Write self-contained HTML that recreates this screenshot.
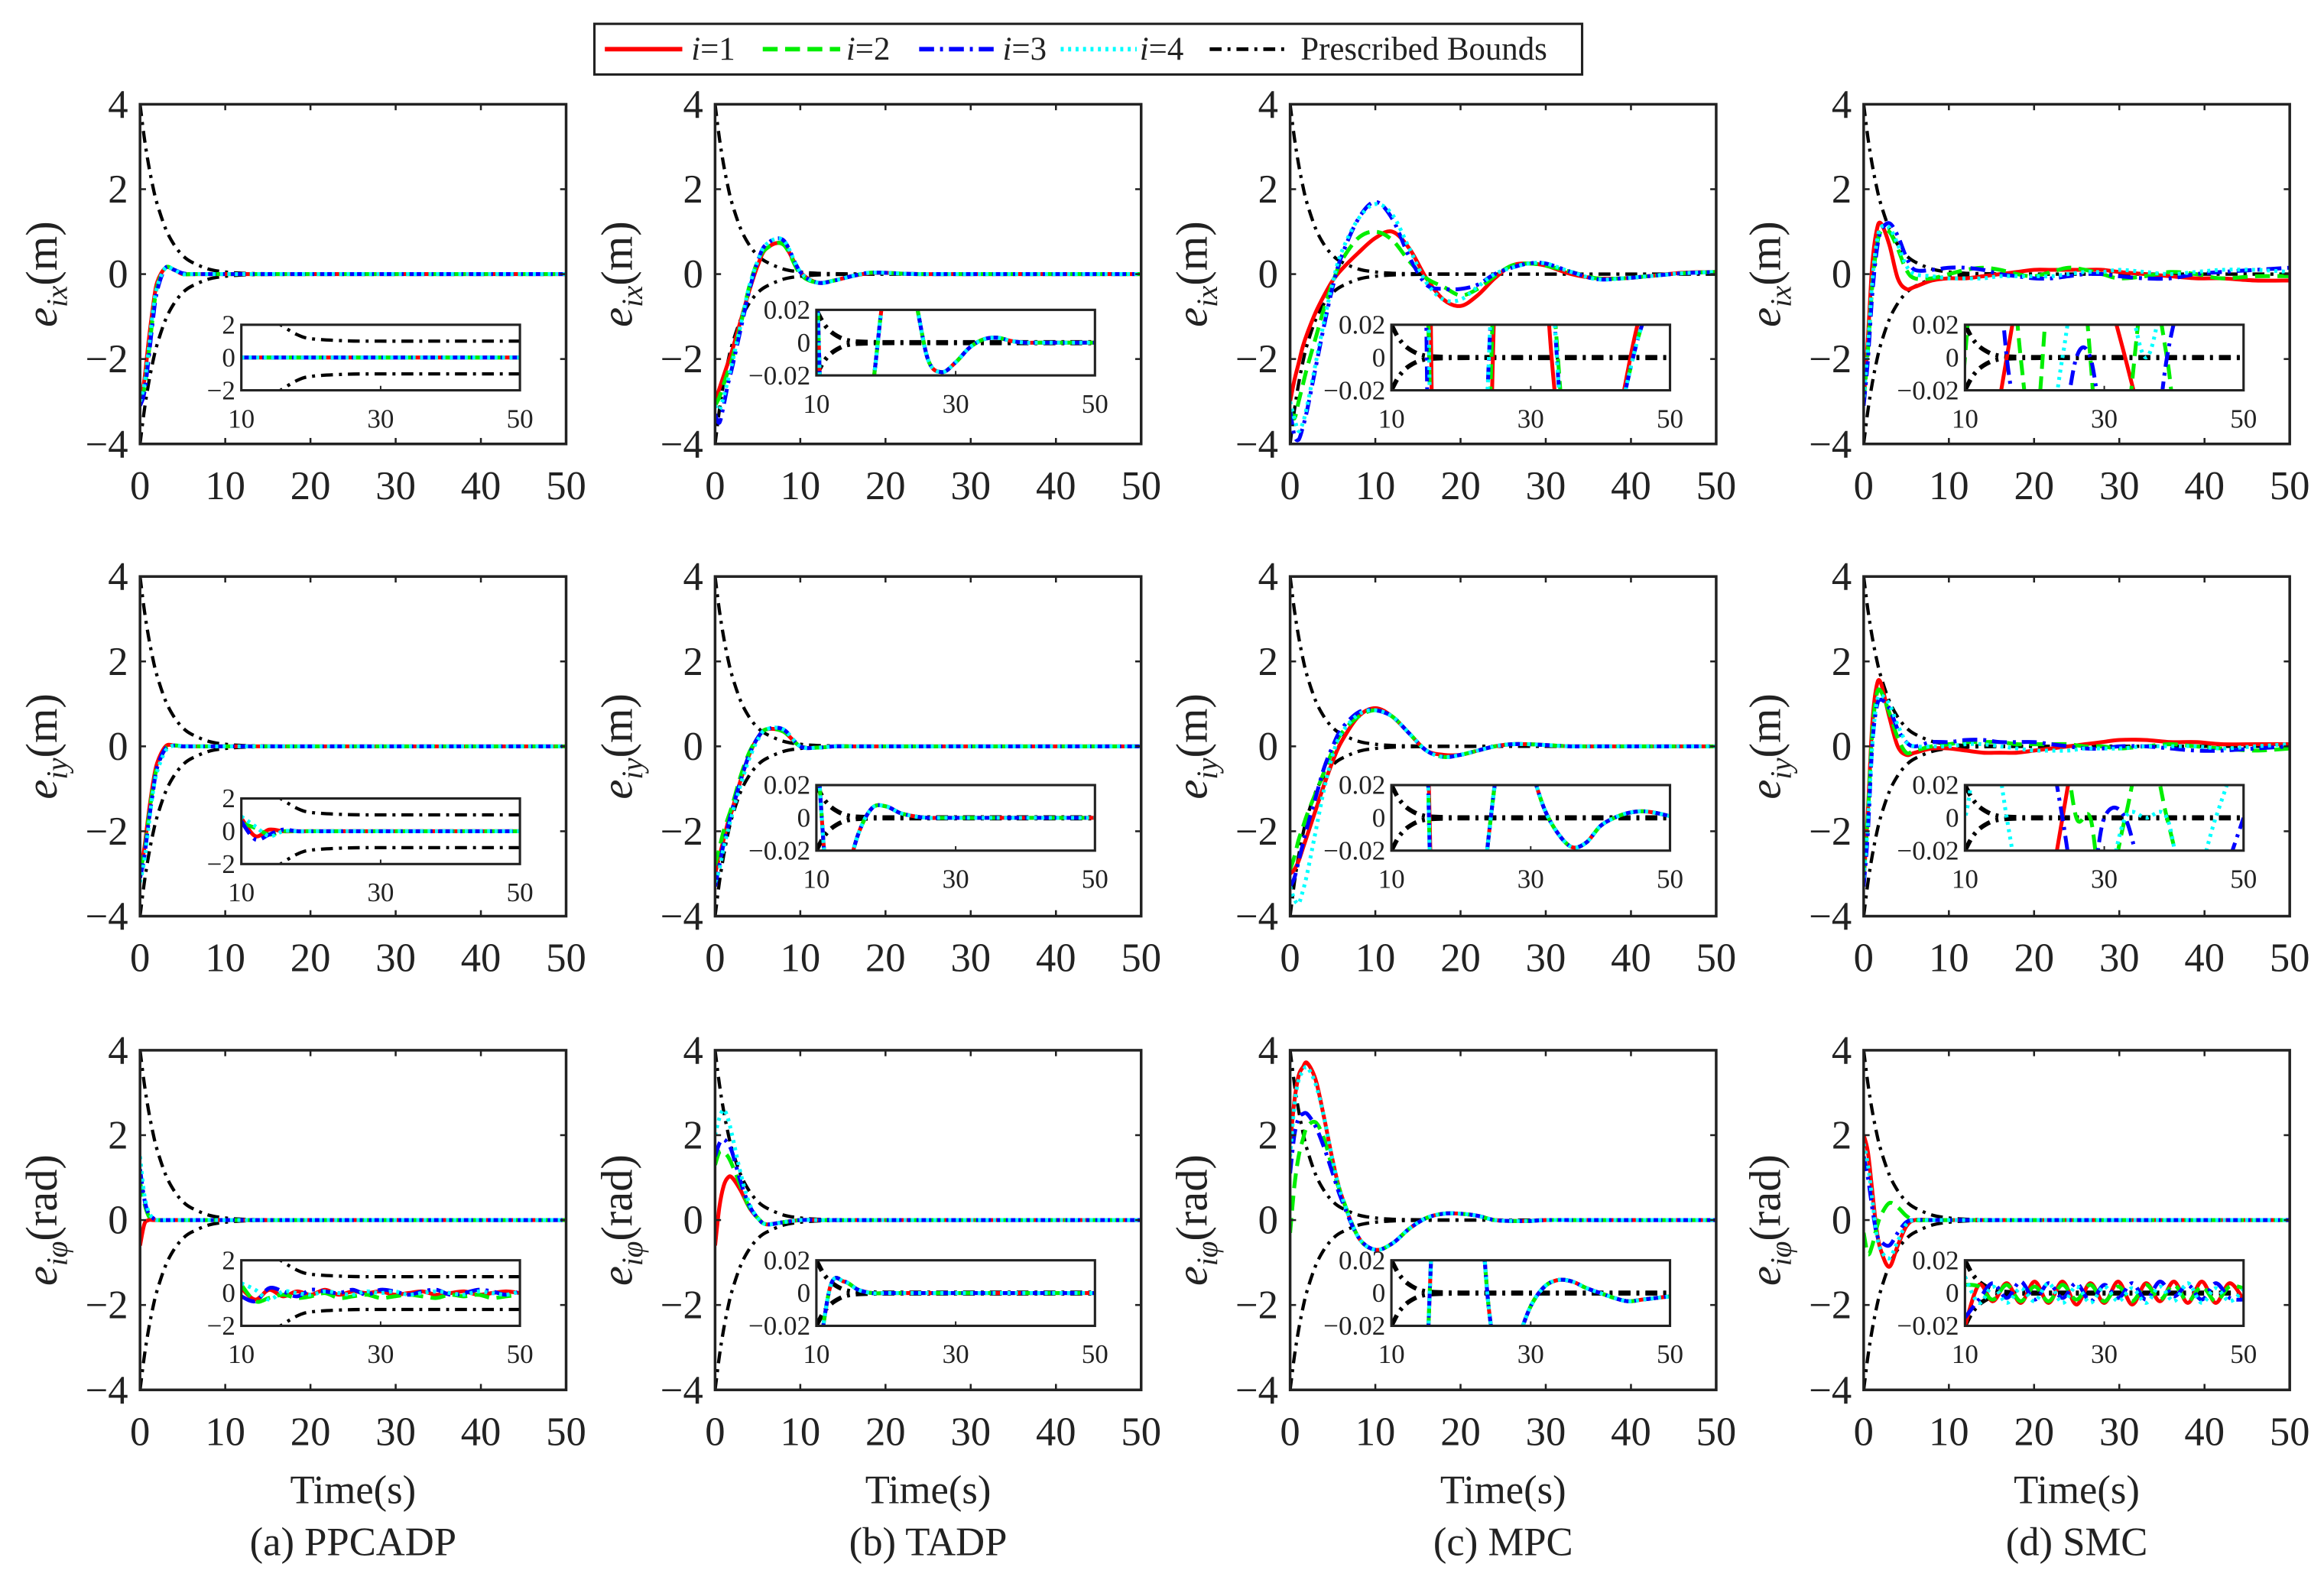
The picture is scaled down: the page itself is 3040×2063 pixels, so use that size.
<!DOCTYPE html>
<html><head><meta charset="utf-8"><title>Tracking errors comparison</title>
<style>
html,body{margin:0;padding:0;background:#fff;width:3040px;height:2063px;overflow:hidden;}
svg{display:block;}
text{font-family:"Liberation Serif",serif;fill:#222;}
</style></head>
<body>
<svg id="fig" xmlns="http://www.w3.org/2000/svg" width="3040" height="2063" viewBox="0 0 1560 1058.6" preserveAspectRatio="none" font-family="'Liberation Serif', serif">
  <g>
    <rect x="399" y="16" width="663" height="34" fill="#fff" stroke="#222" stroke-width="1.6"/>
    <line x1="406" y1="33" x2="458" y2="33" stroke="#f00" stroke-width="3"/>
    <text x="464" y="40" font-size="22"><tspan font-style="italic">i</tspan>=1</text>
    <line x1="512" y1="33" x2="564" y2="33" stroke="#0e0" stroke-width="3" stroke-dasharray="10,5"/>
    <text x="568" y="40" font-size="22"><tspan font-style="italic">i</tspan>=2</text>
    <line x1="617" y1="33" x2="668" y2="33" stroke="#00f" stroke-width="3" stroke-dasharray="10,4,2,4"/>
    <text x="673" y="40" font-size="22"><tspan font-style="italic">i</tspan>=3</text>
    <line x1="712" y1="33" x2="763" y2="33" stroke="#0ff" stroke-width="3" stroke-dasharray="2,3"/>
    <text x="765" y="40" font-size="22"><tspan font-style="italic">i</tspan>=4</text>
    <line x1="812" y1="33" x2="866" y2="33" stroke="#000" stroke-width="2.5" stroke-dasharray="8,4,2,4"/>
    <text x="873" y="40" font-size="22">Prescribed Bounds</text>
  </g>
</svg>
<script>
// ---------- data ----------
const Tm=[0,0.5,1,1.5,2,3,4,5,6,8,10,12,14,16,18,20,22,24,26,28,30,33,36,39,42,46,50];
const Ti=[10,12,14,16,18,20,22,24,26,28,30,32,34,36,38,40,42,44,46,48,50];
const Tb=[10,11,12,13,14,15,16,18,20,25,30,40,50];
const boundMain=[4,3.21,2.58,2.07,1.66,1.07,0.69,0.44,0.29,0.12,0.05,0.02,0.01,0.005,0.003,0.002,0.001,0.001,0.001,0.001,0.001,0.001,0.001,0.001,0.001,0.001,0.001];
const boundInsetA=[5,4.5,3.8,3.2,2.6,2.2,1.9,1.4,1.15,1.02,1.0,1.0,1.0];
const boundInsetS=[0.02,0.012,0.007,0.004,0.002,0.001,0.0006,0.0003,0.0002,0.0002,0.0002,0.0002,0.0002];
const xTicks=[0,10,20,30,40,50];
const yTicks=[-4,-2,0,2,4];
const insetXTicks=[10,30,50];
const captions=["(a) PPCADP","(b) TADP","(c) MPC","(d) SMC"];

// (a) PPCADP
const aX1=[-3,-2.5,-1.6,-0.8,-0.2,0.15,0.1,0,0,0,0,0,0,0,0,0,0,0,0,0,0,0,0,0,0,0,0];
const aX2=[-3,-2.7,-1.9,-1.0,-0.3,0.15,0.1,0,0,0,0,0,0,0,0,0,0,0,0,0,0,0,0,0,0,0,0];
const aX3=[-3.1,-2.8,-2.0,-1.1,-0.4,0.15,0.1,0.02,0,0,0,0,0,0,0,0,0,0,0,0,0,0,0,0,0,0,0];
const aX4=[-3,-2.6,-1.8,-0.9,-0.3,0.15,0.1,0,0,0,0,0,0,0,0,0,0,0,0,0,0,0,0,0,0,0,0];
const aY1=[-3,-2.4,-1.6,-0.9,-0.4,0,0.02,0,0,0,0,0,0,0,0,0,0,0,0,0,0,0,0,0,0,0,0];
const aY2=[-2.9,-2.5,-1.7,-1.0,-0.5,-0.05,0.02,0,0,0,0,0,0,0,0,0,0,0,0,0,0,0,0,0,0,0,0];
const aY3=[-3.1,-2.6,-1.8,-1.1,-0.5,-0.05,0.02,0,0,0,0,0,0,0,0,0,0,0,0,0,0,0,0,0,0,0,0];
const aY4=[-3.2,-2.7,-1.9,-1.1,-0.6,-0.1,0.02,0,0,0,0,0,0,0,0,0,0,0,0,0,0,0,0,0,0,0,0];
const aP1=[-0.6,-0.1,0,0,0,0,0,0,0,0,0,0,0,0,0,0,0,0,0,0,0,0,0,0,0,0,0];
const aP2=[0.9,0.4,0.1,0,0,0,0,0,0,0,0,0,0,0,0,0,0,0,0,0,0,0,0,0,0,0,0];
const aP3=[1.2,0.5,0.15,0.05,0,0,0,0,0,0,0,0,0,0,0,0,0,0,0,0,0,0,0,0,0,0,0];
const aP4=[1.5,0.6,0.2,0.05,0,0,0,0,0,0,0,0,0,0,0,0,0,0,0,0,0,0,0,0,0,0,0];
const aXi=[0,0,0,0,0,0,0,0,0,0,0,0,0,0,0,0,0,0,0,0,0];
const aYi1=[0.8,-0.3,0.1,0,0,0,0,0,0,0,0,0,0,0,0,0,0,0,0,0,0];
const aYi2=[0.5,0.2,-0.2,0,0,0,0,0,0,0,0,0,0,0,0,0,0,0,0,0,0];
const aYi3=[0.6,-0.5,-0.2,0.1,0,0,0,0,0,0,0,0,0,0,0,0,0,0,0,0,0];
const aYi4=[0.9,0.3,-0.3,0,0,0,0,0,0,0,0,0,0,0,0,0,0,0,0,0,0];
const aPi1=[0.3,-0.4,0.2,-0.2,0.1,-0.1,0.2,-0.1,0.1,0,0.1,-0.1,0,0.1,-0.1,0,0.1,-0.1,0,0.1,0];
const aPi2=[0.5,-0.5,-0.3,-0.1,-0.3,-0.2,0,-0.3,-0.2,-0.1,-0.3,-0.2,-0.1,-0.2,-0.3,-0.1,-0.2,-0.1,-0.3,-0.2,-0.1];
const aPi3=[-0.2,-0.5,0.3,0.1,-0.2,0.2,0.1,0,0.2,-0.1,0.2,0.1,-0.1,0.1,0.2,-0.1,0,0.2,0.1,-0.1,0.1];
const aPi4=[0.6,0.2,-0.4,0.1,0,-0.1,0.1,0,-0.1,0.1,0,0.1,-0.1,0,0.1,0,-0.1,0.1,0,-0.1,0.1];

// (b) TADP
const bX1=[-3,-2.7,-2.4,-2.1,-1.8,-1.1,-0.4,0.2,0.6,0.7,0.05,-0.2,-0.15,-0.05,0.02,0.03,0.01,0,0,0,0,0,0,0,0,0,0];
const bX2=[-3.1,-2.9,-2.6,-2.3,-2.0,-1.2,-0.3,0.3,0.6,0.7,0,-0.2,-0.15,-0.05,0.03,0.03,0.01,0,0,0,0,0,0,0,0,0,0];
const bX3=[-3.3,-3.5,-3.1,-2.6,-2.2,-1.3,-0.4,0.3,0.7,0.8,0.05,-0.2,-0.15,-0.05,0.03,0.03,0.01,0,0,0,0,0,0,0,0,0,0];
const bX4=[-3.1,-3.2,-2.9,-2.5,-2.1,-1.2,-0.3,0.3,0.7,0.8,0.05,-0.2,-0.15,-0.05,0.03,0.03,0.01,0,0,0,0,0,0,0,0,0,0];
const bY1=[-3,-2.6,-2.2,-1.8,-1.5,-0.8,-0.2,0.2,0.4,0.35,0,-0.03,0,0,0,0,0,0,0,0,0,0,0,0,0,0,0];
const bY2=[-2.8,-2.4,-2.0,-1.7,-1.4,-0.7,-0.15,0.2,0.4,0.35,0,-0.03,0,0,0,0,0,0,0,0,0,0,0,0,0,0,0];
const bY3=[-3.3,-2.8,-2.3,-1.9,-1.5,-0.8,-0.2,0.2,0.4,0.4,0,-0.03,0,0,0,0,0,0,0,0,0,0,0,0,0,0,0];
const bY4=[-3.2,-2.9,-2.4,-2.0,-1.6,-0.9,-0.3,0.15,0.4,0.4,0,-0.03,0,0,0,0,0,0,0,0,0,0,0,0,0,0,0];
const bP1=[-0.6,0.3,0.8,1.0,1.0,0.7,0.3,0.05,-0.1,-0.05,0,0,0,0,0,0,0,0,0,0,0,0,0,0,0,0,0];
const bP2=[1.3,1.6,1.6,1.5,1.3,0.8,0.3,0.05,-0.1,-0.05,0,0,0,0,0,0,0,0,0,0,0,0,0,0,0,0,0];
const bP3=[1.5,1.8,1.9,1.8,1.6,0.9,0.35,0.05,-0.1,-0.05,0,0,0,0,0,0,0,0,0,0,0,0,0,0,0,0,0];
const bP4=[2.0,2.4,2.6,2.4,2.0,1.1,0.4,0.05,-0.1,-0.05,0,0,0,0,0,0,0,0,0,0,0,0,0,0,0,0,0];
const bXi=[0.05,-0.2,-0.15,-0.08,-0.03,0.04,0.05,0.03,-0.01,-0.018,-0.012,-0.003,0.002,0.003,0.001,0,0,0,0,0,0];
const bYi=[0.05,-0.06,-0.04,-0.01,0.006,0.007,0.003,0.001,0,0,0,0,0,0,0,0,0,0,0,0,0];
const bPi=[-0.05,0.004,0.007,0.002,0,0,0,0,0,0,0,0,0,0,0,0,0,0,0,0,0];

// (c) MPC
const cX1=[-3,-2.5,-2.1,-1.7,-1.4,-0.9,-0.5,-0.15,0.1,0.5,0.85,1.0,0.6,-0.1,-0.6,-0.75,-0.5,-0.1,0.2,0.25,0.2,0,-0.1,-0.1,-0.05,0.03,0.05];
const cX2=[-3.2,-3.4,-3.0,-2.6,-2.2,-1.5,-0.8,-0.2,0.3,0.85,1.0,0.8,0.3,-0.1,-0.3,-0.5,-0.35,-0.05,0.2,0.25,0.2,0.05,-0.1,-0.1,-0.05,0.02,0.05];
const cX3=[-3.2,-3.8,-3.9,-3.6,-3.2,-2.2,-1.2,-0.3,0.4,1.3,1.7,1.3,0.4,-0.25,-0.35,-0.35,-0.25,0,0.15,0.25,0.25,0.05,-0.12,-0.1,-0.05,0.02,0.05];
const cX4=[-3.0,-3.4,-3.7,-3.5,-3.1,-2.1,-1.1,-0.2,0.5,1.3,1.65,1.4,0.6,-0.2,-0.6,-0.6,-0.3,0,0.15,0.25,0.25,0.05,-0.12,-0.1,-0.05,0.02,0.05];
const cY1=[-3,-2.9,-2.7,-2.4,-2.1,-1.5,-0.9,-0.35,0.1,0.7,0.9,0.7,0.3,-0.1,-0.2,-0.2,-0.1,0,0.05,0.05,0.03,0,0,0,0,0,0];
const cY2=[-2.9,-2.6,-2.2,-1.9,-1.6,-1.1,-0.6,-0.1,0.3,0.7,0.85,0.7,0.3,-0.1,-0.25,-0.2,-0.1,0,0.05,0.05,0.03,0,0,0,0,0,0];
const cY3=[-3.3,-3.1,-2.7,-2.3,-1.9,-1.2,-0.5,0,0.4,0.8,0.85,0.7,0.3,-0.1,-0.25,-0.2,-0.1,0,0.05,0.05,0.03,0,0,0,0,0,0];
const cY4=[-3.3,-3.6,-3.7,-3.4,-3.0,-2.0,-1.0,-0.2,0.3,0.75,0.85,0.7,0.3,-0.1,-0.25,-0.2,-0.1,0,0.05,0.05,0.03,0,0,0,0,0,0];
const cP1=[1.8,2.8,3.4,3.6,3.7,3.3,2.4,1.4,0.6,-0.4,-0.7,-0.55,-0.2,0.05,0.15,0.15,0.1,0,-0.02,-0.02,0,0,0,0,0,0,0];
const cP2=[-0.3,0.8,1.5,1.9,2.2,2.3,1.9,1.2,0.6,-0.4,-0.7,-0.55,-0.2,0.05,0.15,0.15,0.1,0,-0.02,-0.02,0,0,0,0,0,0,0];
const cP3=[1.1,2.0,2.4,2.5,2.5,2.2,1.7,1.1,0.5,-0.4,-0.7,-0.55,-0.2,0.05,0.15,0.15,0.1,0,-0.02,-0.02,0,0,0,0,0,0,0];
const cP4=[1.5,2.7,3.3,3.5,3.6,3.2,2.4,1.4,0.6,-0.4,-0.7,-0.55,-0.2,0.05,0.15,0.15,0.1,0,-0.02,-0.02,0,0,0,0,0,0,0];
const cYi=[0.9,0.7,0.3,-0.1,-0.2,-0.2,-0.1,-0.01,0.05,0.05,0.03,0.005,-0.01,-0.018,-0.015,-0.005,0,0.003,0.004,0.003,0.001];
const cPi=[-0.7,-0.55,-0.2,0.05,0.15,0.15,0.1,-0.01,-0.05,-0.03,-0.008,0.004,0.008,0.007,0.003,0,-0.003,-0.005,-0.004,-0.003,-0.002];

// (d) SMC
const dX1=[-3,-1.5,0.2,1.0,1.2,0.7,-0.1,-0.35,-0.3,-0.15,-0.1,-0.1,-0.05,0,0.05,0.1,0.1,0.1,0.1,0.1,0.05,0,-0.05,-0.1,-0.1,-0.15,-0.15];
const dX2=[-3,-1.8,-0.3,0.6,1.0,1.0,0.6,0.1,-0.1,-0.1,0,0.1,0.15,0.1,0,-0.05,0.05,0.15,0.1,0,-0.1,-0.05,0.05,0,-0.1,-0.05,-0.05];
const dX3=[-3.1,-2.0,-0.5,0.5,1.0,1.2,0.9,0.4,0.1,0.1,0.15,0.15,0.1,0,-0.05,-0.1,-0.1,-0.05,0,0,-0.05,-0.1,-0.1,0,0.05,0.1,0.15];
const dX4=[-2.9,-1.7,-0.2,0.7,1.1,1.1,0.7,0.2,0,-0.05,-0.1,-0.1,-0.1,-0.05,-0.05,-0.05,-0.05,0,0.05,0.05,0.1,0.05,0,0.05,0.1,0.1,0.05];
const dY1=[-3.2,-1.5,0.5,1.4,1.5,0.7,0,-0.2,-0.15,-0.05,-0.05,-0.1,-0.15,-0.15,-0.15,-0.1,-0.05,0,0.05,0.1,0.15,0.15,0.1,0.1,0.05,0.05,0.05];
const dY2=[-3.0,-1.6,0.3,1.2,1.3,0.8,0.2,-0.15,-0.1,0,0.05,0.1,0.1,0.1,0.05,0.05,0.05,0.05,0,0,-0.05,0,0.05,0,-0.05,-0.1,-0.05];
const dY3=[-3.3,-2.0,0,0.9,1.1,0.9,0.4,0.1,0,0.1,0.1,0.15,0.15,0.1,0.1,0.1,0.05,0,-0.05,-0.05,0,0,-0.05,-0.1,-0.1,-0.05,0];
const dY4=[-3.1,-1.8,0,1.0,1.2,1.0,0.5,0.1,0,0,0,0.05,0.05,0,-0.05,-0.1,-0.1,-0.1,-0.05,-0.05,-0.05,0,0,0,-0.05,0,0.05];
const dP1=[2.0,1.6,0.7,-0.2,-0.7,-1.1,-0.6,-0.15,0,0,0,0,0,0,0,0,0,0,0,0,0,0,0,0,0,0,0];
const dP2=[-0.3,-0.8,-0.6,-0.2,0.1,0.4,0.3,0.1,0,0,0,0,0,0,0,0,0,0,0,0,0,0,0,0,0,0,0];
const dP3=[1.5,1.0,0.3,-0.3,-0.5,-0.6,-0.3,-0.05,0,0,0,0,0,0,0,0,0,0,0,0,0,0,0,0,0,0,0];
const dP4=[1.8,1.3,0.5,-0.3,-0.7,-0.9,-0.5,-0.1,0,0,0,0,0,0,0,0,0,0,0,0,0,0,0,0,0,0,0];
const dPi1=[-0.02,0.005,-0.005,0.006,-0.006,0.007,-0.006,0.007,-0.007,0.006,-0.006,0.007,-0.007,0.006,-0.005,0.007,-0.006,0.007,-0.006,0.006,-0.004];
const dPi2=[0.005,0.004,-0.004,0.005,-0.005,0.004,-0.005,0.005,-0.004,0.005,-0.005,0.004,-0.005,0.005,-0.004,0.005,-0.005,0.004,-0.005,0.004,0.003];
const dPi3=[-0.015,-0.004,0.006,-0.003,0.007,-0.004,0.006,-0.003,0.006,-0.005,0.005,-0.003,0.006,-0.004,0.007,-0.002,0.005,-0.004,0.006,-0.003,-0.004];
const dPi4=[0.01,-0.006,0.004,-0.006,0.003,-0.005,0.006,-0.006,0.004,-0.006,0.004,-0.005,0.003,-0.006,0.004,-0.005,0.006,-0.006,0.003,-0.005,0.002];

// ---------- layout ----------
const NS="http://www.w3.org/2000/svg";
const svg=document.getElementById('fig');
const colX=[94,480,866,1251], rowY=[70,387,705], AW=286, AH=228;
const insetTopArr=[[218,208,218,218],[536,527,527,527],[846,846,846,846]];
const insetLeftOff=68, IW=187, IH=44;
const styles=[
 {c:"#f00",d:"",w:2.6},
 {c:"#0e0",d:"10,5",w:2.6},
 {c:"#00f",d:"10,4,2,4",w:2.6},
 {c:"#0ff",d:"2,3",w:2.6}];
const ylabels=[["ix","(m)"],["iy","(m)"],["iφ","(rad)"]];

const panels=[
 {col:0,row:0,main:[aX1,aX2,aX3,aX4],it:Ti,ins:[aXi,aXi,aXi,aXi],big:true},
 {col:0,row:1,main:[aY1,aY2,aY3,aY4],it:Ti,ins:[aYi1,aYi2,aYi3,aYi4],big:true},
 {col:0,row:2,main:[aP1,aP2,aP3,aP4],it:Ti,ins:[aPi1,aPi2,aPi3,aPi4],big:true},
 {col:1,row:0,main:[bX1,bX2,bX3,bX4],it:Ti,ins:[bXi,bXi,bXi,bXi]},
 {col:1,row:1,main:[bY1,bY2,bY3,bY4],it:Ti,ins:[bYi,bYi,bYi,bYi]},
 {col:1,row:2,main:[bP1,bP2,bP3,bP4],it:Ti,ins:[bPi,bPi,bPi,bPi]},
 {col:2,row:0,main:[cX1,cX2,cX3,cX4],it:Tm,ins:[cX1,cX2,cX3,cX4]},
 {col:2,row:1,main:[cY1,cY2,cY3,cY4],it:Ti,ins:[cYi,cYi,cYi,cYi]},
 {col:2,row:2,main:[cP1,cP2,cP3,cP4],it:Ti,ins:[cPi,cPi,cPi,cPi]},
 {col:3,row:0,main:[dX1,dX2,dX3,dX4],it:Tm,ins:[dX1,dX2,dX3,dX4]},
 {col:3,row:1,main:[dY1,dY2,dY3,dY4],it:Tm,ins:[dY1,dY2,dY3,dY4]},
 {col:3,row:2,main:[dP1,dP2,dP3,dP4],it:Ti,ins:[dPi1,dPi2,dPi3,dPi4]}
];

function el(tag,attrs,parent){const e=document.createElementNS(NS,tag);for(const k in attrs)e.setAttribute(k,attrs[k]);(parent||svg).appendChild(e);return e;}
function pathD(pts){
  let d="M"+pts[0][0].toFixed(2)+","+pts[0][1].toFixed(2);
  for(let i=0;i<pts.length-1;i++){
    const p0=pts[i-1]||pts[i],p1=pts[i],p2=pts[i+1],p3=pts[i+2]||pts[i+1];
    const c1x=p1[0]+(p2[0]-p0[0])/6,c1y=p1[1]+(p2[1]-p0[1])/6;
    const c2x=p2[0]-(p3[0]-p1[0])/6,c2y=p2[1]-(p3[1]-p1[1])/6;
    d+="C"+c1x.toFixed(2)+","+c1y.toFixed(2)+" "+c2x.toFixed(2)+","+c2y.toFixed(2)+" "+p2[0].toFixed(2)+","+p2[1].toFixed(2);
  }
  return d;
}
function fmt(v){return v<0?"−"+String(-v):String(v);}

let clipId=0;
panels.forEach((p,pi)=>{
  const x0=colX[p.col], y0=rowY[p.row];
  const g=el('g',{});
  
  
  const xs=t=>x0+t/50*AW;
  const ys=v=>y0+AH/2-v/8*AH;
  const cid='c'+(clipId++);
  const cp=el('clipPath',{id:cid},g); el('rect',{x:x0,y:y0,width:AW,height:AH},cp);
  const plot=el('g',{'clip-path':'url(#'+cid+')'},g);
  [1,-1].forEach(s=>{
    const b=el('path',{d:pathD(Tm.map((t,i)=>[xs(t),ys(s*boundMain[i])])),fill:'none',stroke:'#000','stroke-width':2.2,'stroke-dasharray':'8,4,2,4'},plot);
    
    
  });
  p.main.forEach((arr,k)=>{
    const st=styles[k];
    const s=el('path',{d:pathD(Tm.map((t,i)=>[xs(t),ys(arr[i])])),fill:'none',stroke:st.c,'stroke-width':st.w,'stroke-dasharray':st.d},plot);
    
    
  });
  const box=el('rect',{x:x0,y:y0,width:AW,height:AH,fill:'none',stroke:'#222','stroke-width':1.8},g);
  
  
  xTicks.forEach(t=>{
    el('line',{x1:xs(t),y1:y0+AH,x2:xs(t),y2:y0+AH-4,stroke:'#222','stroke-width':1.3},g);
    el('line',{x1:xs(t),y1:y0,x2:xs(t),y2:y0+4,stroke:'#222','stroke-width':1.3},g);
    const tx=el('text',{x:xs(t),y:y0+AH+37,'font-size':27,'text-anchor':'middle'},g);
    tx.textContent=String(t);
    
    
  });
  yTicks.forEach(v=>{
    el('line',{x1:x0,y1:ys(v),x2:x0+4,y2:ys(v),stroke:'#222','stroke-width':1.3},g);
    el('line',{x1:x0+AW,y1:ys(v),x2:x0+AW-4,y2:ys(v),stroke:'#222','stroke-width':1.3},g);
    const tx=el('text',{x:x0-8,y:ys(v)+9,'font-size':27,'text-anchor':'end'},g);
    tx.textContent=fmt(v);
    
    
  });
  const yl=el('text',{transform:'translate('+(x0-56)+','+(y0+AH/2)+') rotate(-90)','font-size':30,'text-anchor':'middle'},g);
  
  
  const lab=ylabels[p.row];
  const t1=el('tspan',{'font-style':'italic'},yl); t1.textContent='e';
  const t2=el('tspan',{'font-style':'italic','font-size':20,dy:7},yl); t2.textContent=lab[0];
  const t3=el('tspan',{dy:-7},yl); t3.textContent=lab[1];

  const ix0=x0+insetLeftOff, iy0=insetTopArr[p.row][p.col];
  const yr=p.big?2:0.02;
  const ixs=t=>ix0+(t-10)/40*IW;
  const iys=v=>iy0+IH/2-v/(2*yr)*IH;
  const ig=el('g',{},g);
  
  
  el('rect',{x:ix0,y:iy0,width:IW,height:IH,fill:'#fff'},ig);
  const icid='c'+(clipId++);
  const icp=el('clipPath',{id:icid},ig); el('rect',{x:ix0,y:iy0,width:IW,height:IH},icp);
  const iplot=el('g',{'clip-path':'url(#'+icid+')'},ig);
  const bArr=p.big?boundInsetA:boundInsetS;
  [1,-1].forEach(s=>{
    const b=el('path',{d:pathD(Tb.map((t,i)=>[ixs(t),iys(s*bArr[i])])),fill:'none',stroke:'#000','stroke-width':p.big?2.2:3,'stroke-dasharray':'8,4,2,4'},iplot);
    
    
  });
  p.ins.forEach((arr,k)=>{
    const st=styles[k];
    const s=el('path',{d:pathD(p.it.map((t,i)=>[ixs(t),iys(arr[i])])),fill:'none',stroke:st.c,'stroke-width':st.w,'stroke-dasharray':st.d},iplot);
    
    
  });
  el('rect',{x:ix0,y:iy0,width:IW,height:IH,fill:'none',stroke:'#222','stroke-width':1.6},ig);
  insetXTicks.forEach(t=>{
    el('line',{x1:ixs(t),y1:iy0+IH,x2:ixs(t),y2:iy0+IH-3,stroke:'#222','stroke-width':1},ig);
    const tx=el('text',{x:ixs(t),y:iy0+IH+25,'font-size':18,'text-anchor':'middle'},ig);
    tx.textContent=String(t);
    
    
  });
  [yr,0,-yr].forEach(v=>{
    const tx=el('text',{x:ix0-4,y:iys(v)+6,'font-size':18,'text-anchor':'end'},ig);
    tx.textContent=fmt(v);
    
    
  });
});

colX.forEach((x,c)=>{
  const t=el('text',{x:x+AW/2,y:1009,'font-size':27,'text-anchor':'middle'});
  t.textContent='Time(s)';
  
  
  const cap=el('text',{x:x+AW/2,y:1044,'font-size':27,'text-anchor':'middle'});
  cap.textContent=captions[c];
  
  
});
</script>
</body></html>
